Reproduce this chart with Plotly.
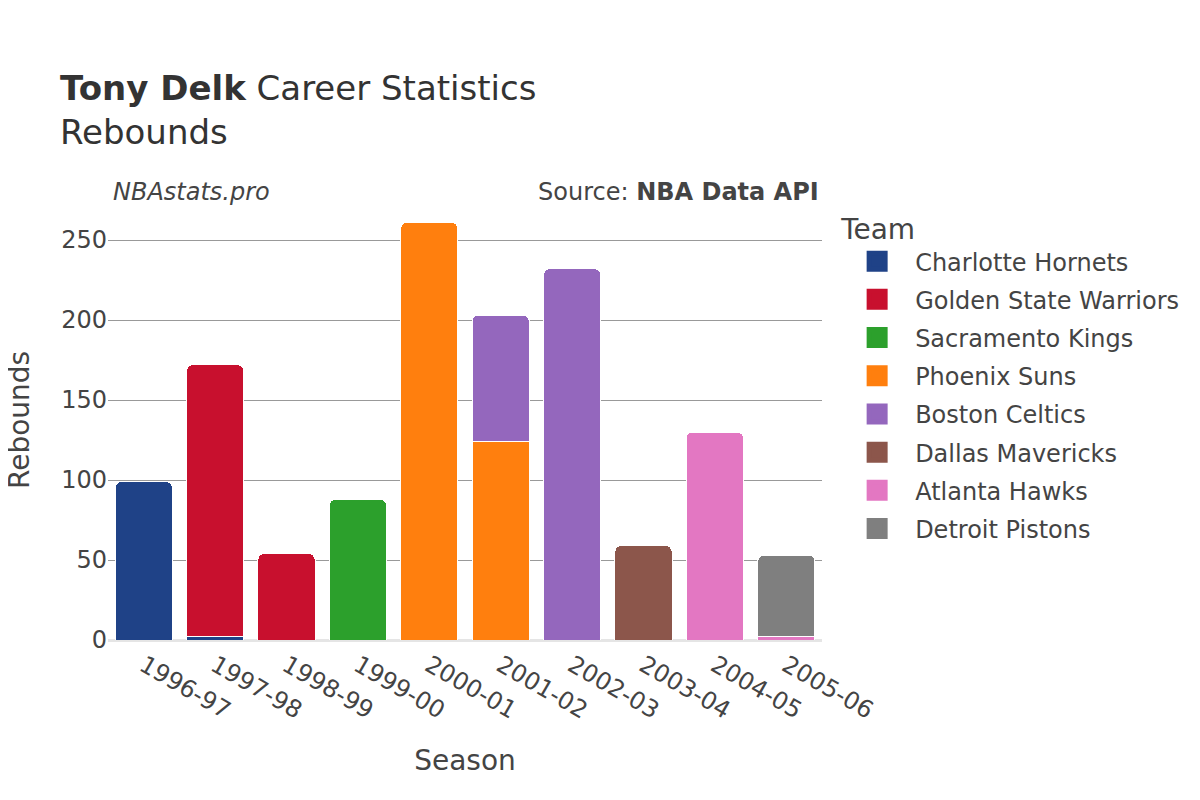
import plotly.graph_objects as go

seasons = ["1996-97", "1997-98", "1998-99", "1999-00", "2000-01", "2001-02", "2002-03", "2003-04", "2004-05", "2005-06"]
teams = ["Charlotte Hornets", "Golden State Warriors", "Sacramento Kings", "Phoenix Suns",
         "Boston Celtics", "Dallas Mavericks", "Atlanta Hawks", "Detroit Pistons"]
colors = ["#1f4287", "#c8102e", "#2ca02c", "#ff7f0e", "#9467bd", "#8c564b", "#e377c2", "#7f7f7f"]
values = {
    "Charlotte Hornets":     [99, 2, 0, 0, 0, 0, 0, 0, 0, 0],
    "Golden State Warriors": [0, 170, 54, 0, 0, 0, 0, 0, 0, 0],
    "Sacramento Kings":      [0, 0, 0, 88, 0, 0, 0, 0, 0, 0],
    "Phoenix Suns":          [0, 0, 0, 0, 261, 124, 0, 0, 0, 0],
    "Boston Celtics":        [0, 0, 0, 0, 0, 79, 232, 0, 0, 0],
    "Dallas Mavericks":      [0, 0, 0, 0, 0, 0, 0, 59, 0, 0],
    "Atlanta Hawks":         [0, 0, 0, 0, 0, 0, 0, 0, 130, 2],
    "Detroit Pistons":       [0, 0, 0, 0, 0, 0, 0, 0, 0, 51],
}

fig = go.Figure()
for team, color in zip(teams, colors):
    ys = [v if v else None for v in values[team]]
    fig.add_trace(go.Bar(x=seasons, y=ys, name=team, marker_color=color,
                         marker_line_color="white", marker_line_width=1,
                         legendgroup=team, showlegend=False))
    # legend-only entry with a larger swatch
    fig.add_trace(go.Scatter(x=[None], y=[None], mode="markers", name=team, legendgroup=team,
                             marker=dict(symbol="square", size=16, color=color,
                                         line=dict(width=5, color=color))))

fig.update_layout(
    barmode="stack",
    barcornerradius=6,
    width=1200, height=800,
    font=dict(family="DejaVu Sans, Open Sans, sans-serif", size=24, color="#444"),
    paper_bgcolor="white", plot_bgcolor="white",
    margin=dict(l=100, r=386, t=192, b=168, autoexpand=False),
    title=dict(text="<b>Tony Delk</b> Career Statistics<br>Rebounds", x=0.0433, xanchor="left",
               xref="container", y=0.885, yanchor="middle", font=dict(size=34, color="#333")),
    legend=dict(title=dict(text="Team", font=dict(size=28)), font=dict(size=24),
                traceorder="grouped", x=1.024, y=0.994, yanchor="top", itemsizing="trace",
                itemwidth=66, tracegroupgap=4),
    bargap=0.2,
    xaxis=dict(type="category", title=dict(text="Season", font=dict(size=28), standoff=27),
               tickangle=30, showgrid=False, ticks="", linecolor="#e5e5e5", linewidth=2,
               automargin=False),
    yaxis=dict(gridcolor="#999",
               gridwidth=1, zeroline=True, zerolinecolor="#e5e5e5", zerolinewidth=2, ticks="",
               tickvals=[0, 50, 100, 150, 200, 250], range=[0, 275], automargin=False),
    annotations=[
        dict(text="Rebounds", xref="paper", yref="paper", x=-0.1246, y=0.5, textangle=-90,
             xanchor="center", yanchor="middle", showarrow=False, font=dict(size=28, color="#444")),
        dict(text="<i>NBAstats.pro</i>", xref="paper", yref="paper", x=0.004, y=0.982,
             xanchor="left", yanchor="bottom", showarrow=False, font=dict(size=24, color="#444")),
        dict(text="Source: <b>NBA Data API</b>", xref="paper", yref="paper", x=0.998, y=0.982,
             xanchor="right", yanchor="bottom", showarrow=False, font=dict(size=24, color="#444")),
    ],
)
fig.write_html("out.html")
